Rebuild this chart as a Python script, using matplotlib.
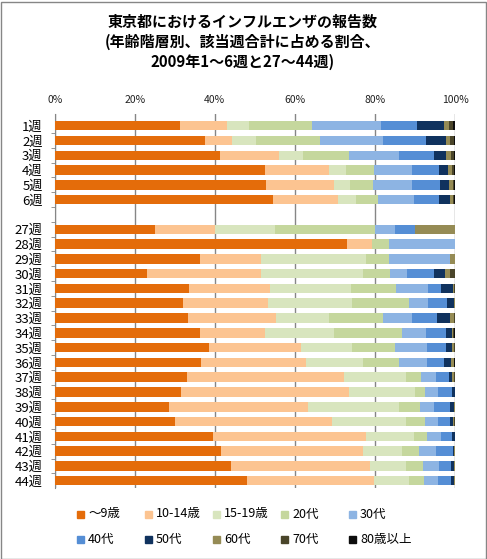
import matplotlib
matplotlib.use("Agg")
import matplotlib.pyplot as plt
import numpy as np
from matplotlib.patches import Rectangle
from matplotlib.ticker import FixedLocator, PercentFormatter

plt.rcParams['font.family'] = ['Noto Sans CJK JP', 'DejaVu Sans']

# データ (読み取り値, %)
weeks = ['1週', '2週', '3週', '4週', '5週', '6週', '',
         '27週', '28週', '29週', '30週', '31週', '32週', '33週', '34週', '35週',
         '36週', '37週', '38週', '39週', '40週', '41週', '42週', '43週', '44週']
age_groups = ['～9歳', '10-14歳', '15-19歳', '20代', '30代',
              '40代', '50代', '60代', '70代', '80歳以上']
colors = ['#E46C0A', '#FCC491', '#D8E5BE', '#C5D79D', '#8DB4E3',
          '#558ED5', '#10325E', '#958B55', '#4A452A', '#0D0D0D']

age_0_9 = [31.3, 37.6, 41.3, 52.5, 52.8, 54.5, 0,
           25.0, 73.0, 36.3, 23.1, 33.6, 32.1, 33.3, 36.3, 38.6,
           36.6, 33.1, 31.6, 28.6, 30.1, 39.6, 41.5, 44.0, 48.0]
age_10_14 = [11.7, 6.7, 14.7, 16.0, 17.0, 16.3, 0,
             15.0, 6.2, 15.2, 28.4, 20.2, 21.2, 22.0, 16.2, 23.0,
             26.2, 39.2, 41.9, 34.7, 39.2, 38.2, 35.5, 34.8, 31.8]
age_15_19 = [5.5, 6.0, 6.0, 4.3, 4.0, 4.5, 0,
             15.0, 0, 26.3, 25.5, 20.2, 21.0, 13.2, 17.3, 12.7,
             14.2, 15.5, 16.5, 22.7, 18.5, 12.0, 9.8, 9.0, 8.7]
age_20s = [15.7, 16.0, 11.5, 7.0, 5.7, 5.5, 0,
           25.0, 4.3, 5.7, 6.8, 11.3, 14.2, 13.5, 17.0, 10.7,
           9.0, 3.7, 2.5, 5.3, 4.7, 3.2, 4.2, 4.2, 3.8]
age_30s = [17.3, 15.7, 12.5, 9.5, 9.8, 9.0, 0,
           5.0, 16.5, 15.3, 4.2, 8.0, 4.8, 7.3, 6.0, 8.0,
           7.0, 3.8, 3.3, 3.5, 3.3, 3.5, 4.3, 4.0, 3.5]
age_40s = [9.0, 10.8, 8.8, 6.7, 7.0, 6.2, 0,
           5.0, 0, 0, 6.8, 3.2, 4.7, 6.2, 5.0, 4.8,
           4.3, 3.2, 3.5, 4.0, 3.0, 2.8, 4.2, 3.0, 3.2]
age_50s = [6.8, 4.9, 3.0, 2.3, 2.2, 2.8, 0,
           0, 0, 0, 2.7, 3.0, 1.8, 3.3, 1.5, 1.5,
           1.7, 0.8, 0.7, 1.0, 0.7, 0.7, 0.2, 0.8, 0.8]
age_60s = [1.2, 1.1, 1.2, 1.0, 1.0, 0.7, 0,
           10.0, 0, 1.2, 1.3, 0.3, 0.2, 1.0, 0.3, 0.5,
           0.8, 0.5, 0, 0.2, 0.3, 0, 0.3, 0.2, 0.2]
age_70s = [0.9, 1.0, 0.8, 0.5, 0.3, 0.3, 0,
           0, 0, 0, 1.2, 0.2, 0, 0.2, 0.2, 0.2,
           0, 0.2, 0, 0, 0.2, 0, 0, 0, 0]
age_80plus = [0.6, 0.2, 0.2, 0.2, 0.2, 0.2, 0,
              0, 0, 0, 0, 0, 0, 0, 0.2, 0,
              0.2, 0, 0, 0, 0, 0, 0, 0, 0]

series = [age_0_9, age_10_14, age_15_19, age_20s, age_30s,
          age_40s, age_50s, age_60s, age_70s, age_80plus]

W, H = 487, 559
fig = plt.figure(figsize=(W / 100, H / 100), dpi=100)
fig.patch.set_facecolor('white')
fig.add_artist(Rectangle((0.5 / W, 0.5 / H), (W - 2) / W, (H - 2) / H,
                         transform=fig.transFigure, fill=False,
                         edgecolor='#868686', linewidth=1))

ax = fig.add_axes([54.7 / W, 1 - 488 / H, (455 - 54.7) / W, (488 - 114.3) / H])

vals = np.array(series, dtype=float)
totals = vals.sum(axis=0)
totals[totals == 0] = 1
pct = vals / totals * 100

y = np.arange(len(weeks))
left = np.zeros(len(weeks))
for name, col, row in zip(age_groups, colors, pct):
    ax.barh(y, row, left=left, height=0.64, color=col, label=name, zorder=3)
    left += row

ax.set_xlim(0, 100)
ax.set_ylim(24.49, -0.77)
ax.xaxis.tick_top()
ax.set_xticks([0, 20, 40, 60, 80, 100])
ax.xaxis.set_major_formatter(PercentFormatter(decimals=0))
ax.tick_params(axis='x', length=0, pad=7, labelsize=7.5, labelcolor='#222222')
ax.grid(axis='x', color='#868686', linewidth=1, zorder=0)

ax.set_yticks(y)
ax.set_yticklabels(weeks)
ax.yaxis.set_minor_locator(FixedLocator(np.arange(len(weeks) - 1) + 0.5))
ax.tick_params(axis='y', which='major', length=0, pad=8.6, labelsize=9.5)
ax.tick_params(axis='y', which='minor', length=3, color='#868686')

for s in ['top', 'right', 'bottom']:
    ax.spines[s].set_visible(False)
ax.spines['left'].set_color('#868686')

fig.text(243 / W, 1 - 42 / H,
         '東京都におけるインフルエンザの報告数\n(年齢階層別、該当週合計に占める割合、\n2009年1～6週と27～44週)',
         ha='center', va='center', fontsize=10.8, fontweight='bold',
         linespacing=1.3)

# 凡例 (Excel風に等間隔)
for i, (name, col) in enumerate(zip(age_groups, colors)):
    cx = 77 + 68 * (i % 5)
    cy = 514 + 25 * (i // 5)
    fig.add_artist(Rectangle((cx / W, 1 - (cy + 3.5) / H), 7 / W, 7 / H,
                             transform=fig.transFigure, color=col))
    fig.text((cx + 11) / W, 1 - cy / H, name, ha='left', va='center',
             fontsize=9)

fig.savefig('out.png', dpi=100)
